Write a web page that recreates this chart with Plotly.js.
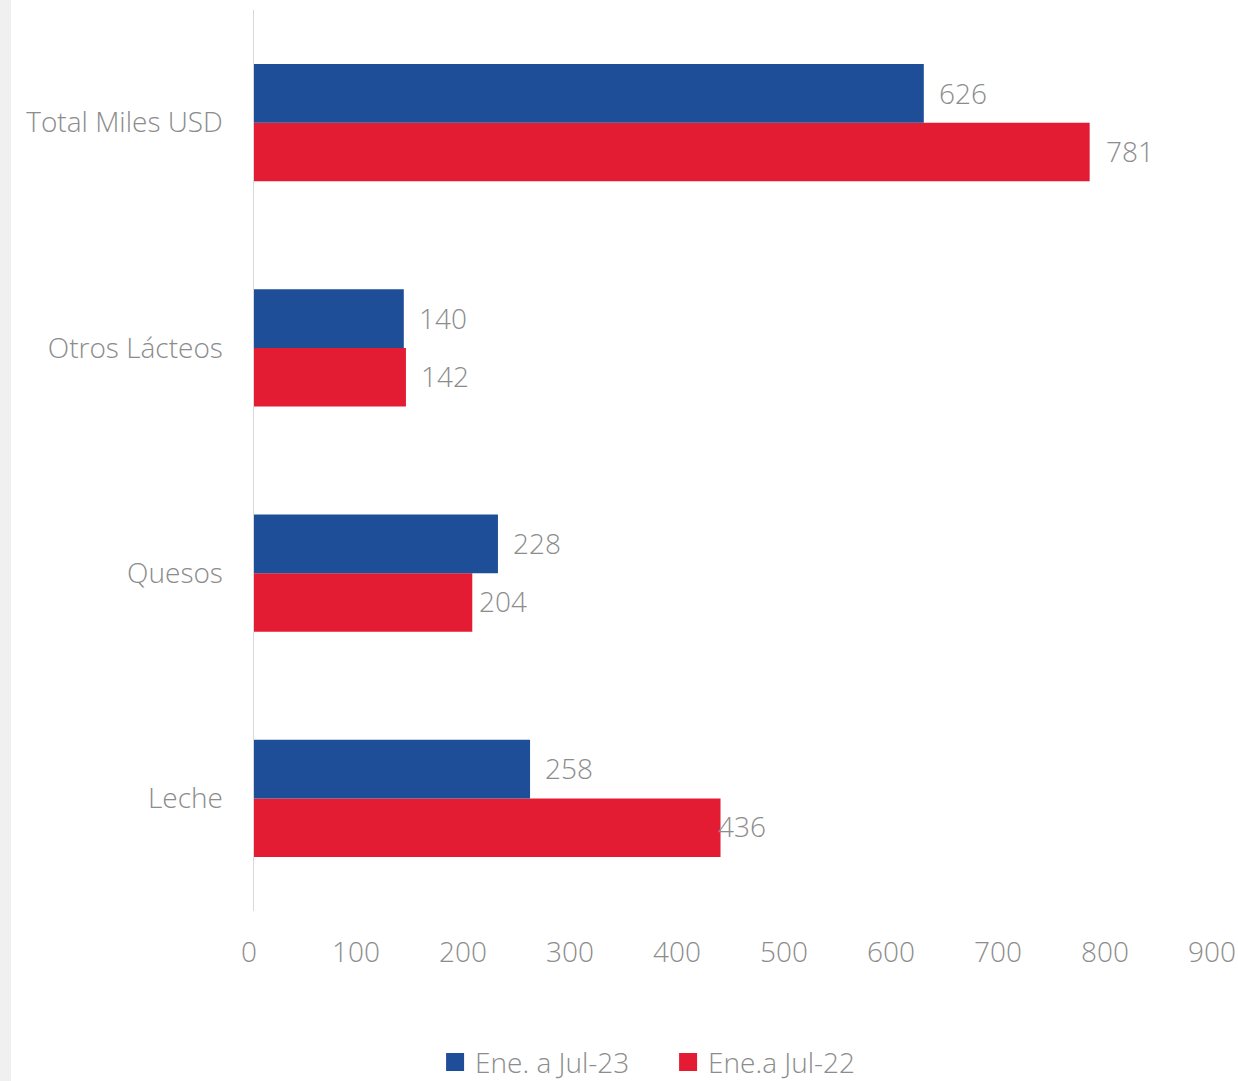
<!DOCTYPE html>
<html>
<head>
<meta charset="utf-8">
<script src="https://cdn.plot.ly/plotly-3.0.1.min.js"></script>
<style>html,body{margin:0;padding:0;background:#fff;}#chart{width:1238px;height:1081px;}</style>
</head>
<body>
<div id="chart"></div>
<script>
const categories = ["Leche", "Quesos", "Otros Lácteos", "Total Miles USD"];
const series23Name = "Ene. a Jul-23";
const series22Name = "Ene.a Jul-22";
const values23 = [258, 228, 140, 626];
const values22 = [436, 204, 142, 781];
const xTicks = [0, 100, 200, 300, 400, 500, 600, 700, 800, 900];

const blue = "#1F4E99";
const red = "#E31B33";
const textGray = "#8C8C8C";
const fontFam = "'Open Sans', Lato, sans-serif";

// label horizontal offsets (px) from bar end, mimicking the reference placement
const shift23 = [13, 13, 13, 13];
const shift22 = [-5, 5, 13, 14];

const traces = [
  {type: "bar", orientation: "h", name: series22Name, y: categories, x: values22,
   marker: {color: red}, hoverinfo: "none", showlegend: false},
  {type: "bar", orientation: "h", name: series23Name, y: categories, x: values23,
   marker: {color: blue}, hoverinfo: "none", showlegend: false},
  {type: "scatter", mode: "markers", name: series23Name, x: [null], y: [null],
   marker: {color: blue, symbol: "square", size: 16, line: {color: blue, width: 2}}, showlegend: true},
  {type: "scatter", mode: "markers", name: series22Name, x: [null], y: [null],
   marker: {color: red, symbol: "square", size: 16, line: {color: red, width: 2}}, showlegend: true}
];

const annotations = [];
categories.forEach((c, i) => {
  annotations.push({x: values23[i], y: c, xref: "x", yref: "y", text: String(values23[i]),
    showarrow: false, xanchor: "left", yanchor: "middle", xshift: shift23[i], yshift: 30,
    font: {family: fontFam, size: 28, color: textGray, weight: 300}});
  annotations.push({x: values22[i], y: c, xref: "x", yref: "y", text: String(values22[i]),
    showarrow: false, xanchor: "left", yanchor: "middle", xshift: shift22[i], yshift: -28,
    font: {family: fontFam, size: 28, color: textGray, weight: 300}});
});

const layout = {
  width: 1238, height: 1081,
  paper_bgcolor: "#ffffff", plot_bgcolor: "#ffffff",
  margin: {l: 254, r: 21, t: 10, b: 170, autoexpand: false},
  barmode: "group", bargap: 0.48, bargroupgap: 0,
  font: {family: fontFam, color: textGray, size: 28, weight: 300},
  xaxis: {range: [0, 900], tickvals: xTicks, ticktext: xTicks.map(String),
    showgrid: false, zeroline: false, showline: false,
    ticks: "outside", ticklen: 16, tickcolor: "rgba(0,0,0,0)", ticklabelshift: -5,
    tickfont: {family: fontFam, size: 28, color: textGray, weight: 300}, fixedrange: true},
  yaxis: {type: "category", categoryarray: categories, range: [-0.5, 3.5],
    showgrid: false, zeroline: false, showline: true, linecolor: "#D9D9D9", linewidth: 1.5,
    ticks: "", ticklabelstandoff: 24,
    tickfont: {family: fontFam, size: 28, color: textGray, weight: 300}, fixedrange: true},
  legend: {orientation: "h", x: 0.430, xanchor: "center", y: -0.168, yanchor: "middle",
    font: {family: fontFam, size: 28, color: textGray, weight: 300},
    itemwidth: 30, itemsizing: "trace", tracegroupgap: 0,
    entrywidth: 188, entrywidthmode: "pixels"},
  annotations: annotations,
  shapes: [{type: "rect", xref: "paper", yref: "paper", x0: -0.2638, x1: -0.2523, y0: -0.19, y1: 1.02,
    fillcolor: "#F0F0F0", line: {width: 0}, layer: "below"}],
  showlegend: true
};

Plotly.newPlot("chart", traces, layout, {displayModeBar: false, staticPlot: true});
</script>
</body>
</html>
